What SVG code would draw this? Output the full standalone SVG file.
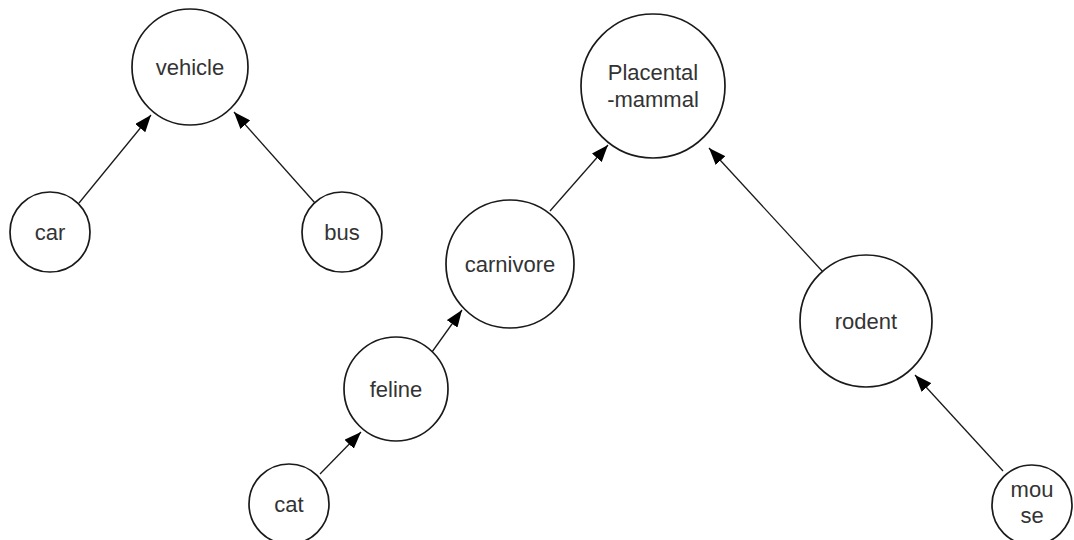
<svg xmlns="http://www.w3.org/2000/svg" width="1074" height="540" viewBox="0 0 1074 540">
  <style>
    .node circle { fill: #ffffff; stroke: #1a1a1a; stroke-width: 1.7; }
    .node text { font-family: "Liberation Sans", Arial, sans-serif; font-size: 22px; fill: #333333; text-anchor: middle; }
    .edge { stroke: #1a1a1a; stroke-width: 1.3; fill: none; marker-end: url(#arrow); }
  </style>
  <defs>
    <marker id="arrow" markerUnits="userSpaceOnUse" markerWidth="17" markerHeight="13" refX="17" refY="6.5" orient="auto">
      <path d="M0,0 L17,6.5 L0,13 z" fill="#000000"/>
    </marker>
  </defs>
  <rect width="1074" height="540" fill="#ffffff"/>

  <!-- connectors: child points to parent -->
  <g id="connectors">
    <line class="edge" x1="79" y1="203" x2="151" y2="115"/>
    <line class="edge" x1="315" y1="203" x2="234" y2="112"/>
    <line class="edge" x1="550" y1="211" x2="608" y2="145"/>
    <line class="edge" x1="823" y1="272" x2="709" y2="148"/>
    <line class="edge" x1="432" y1="352" x2="462" y2="310"/>
    <line class="edge" x1="320" y1="474" x2="361" y2="432"/>
    <line class="edge" x1="1003" y1="471" x2="915" y2="375"/>
  </g>

  <g id="vehicle" class="node">
    <circle cx="190" cy="67" r="58"/>
    <text x="190" y="75">vehicle</text>
  </g>
  <g id="car" class="node">
    <circle cx="50" cy="232" r="40"/>
    <text x="50" y="240">car</text>
  </g>
  <g id="bus" class="node">
    <circle cx="342" cy="232" r="40"/>
    <text x="342" y="240">bus</text>
  </g>
  <g id="placental-mammal" class="node">
    <circle cx="653" cy="86" r="72"/>
    <text x="653" y="80">Placental</text>
    <text x="653" y="107">-mammal</text>
  </g>
  <g id="carnivore" class="node">
    <circle cx="510" cy="264" r="64"/>
    <text x="510" y="272">carnivore</text>
  </g>
  <g id="feline" class="node">
    <circle cx="396" cy="389" r="52"/>
    <text x="396" y="397">feline</text>
  </g>
  <g id="cat" class="node">
    <circle cx="289" cy="504" r="40"/>
    <text x="289" y="512">cat</text>
  </g>
  <g id="rodent" class="node">
    <circle cx="866" cy="321" r="66"/>
    <text x="866" y="329">rodent</text>
  </g>
  <g id="mouse" class="node">
    <circle cx="1032" cy="505" r="40"/>
    <text x="1032" y="497">mou</text>
    <text x="1032" y="523">se</text>
  </g>
</svg>
